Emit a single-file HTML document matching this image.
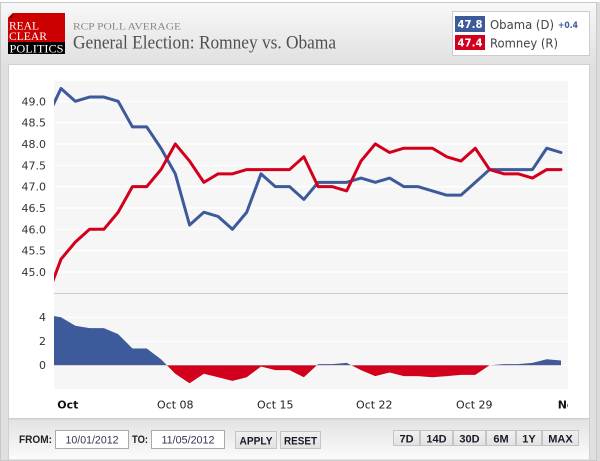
<!DOCTYPE html>
<html><head><meta charset="utf-8"><style>
html,body{margin:0;padding:0;background:#fff;width:600px;height:461px;overflow:hidden}
svg{display:block}
</style></head><body>
<svg width="600" height="461" viewBox="0 0 600 461" xmlns="http://www.w3.org/2000/svg" font-family="'DejaVu Sans', sans-serif">
<defs>
 <linearGradient id="hg" x1="0" y1="2" x2="0" y2="66" gradientUnits="userSpaceOnUse"><stop offset="0" stop-color="#f8f8f8"/><stop offset="1" stop-color="#e0e0e0"/></linearGradient>
 <linearGradient id="fg" x1="0" y1="419" x2="0" y2="460" gradientUnits="userSpaceOnUse"><stop offset="0" stop-color="#e2e2e2"/><stop offset="1" stop-color="#fcfcfc"/></linearGradient>
 <linearGradient id="bg" x1="0" y1="0" x2="0" y2="1"><stop offset="0" stop-color="#f0f0f0"/><stop offset="1" stop-color="#e2e2e2"/></linearGradient>
 <clipPath id="pc"><rect x="54" y="81" width="514" height="212"/></clipPath>
 <clipPath id="pos"><rect x="54" y="294" width="514" height="71.3"/></clipPath>
 <clipPath id="neg"><rect x="54" y="365.3" width="514" height="24"/></clipPath>
 <clipPath id="xl"><rect x="0" y="390" width="568" height="28"/></clipPath>
</defs>

<!-- outer frame -->
<rect x="596" y="2" width="4" height="459" fill="#dcdcdc"/>
<rect x="0.5" y="2.5" width="596" height="458" fill="url(#hg)" stroke="#c8c8c8"/>

<!-- logo -->
<rect x="8" y="13" width="57" height="29" fill="#cc0000"/>
<rect x="8" y="42" width="57" height="12" fill="#000"/>
<polygon points="8,13 13,13 8,18" fill="#e8e8e8"/>
<polygon points="13,13 13,18 8,18" fill="#7a0000"/>
<text x="9" y="29.3" font-family="'Liberation Serif', serif" font-size="12" fill="#fff" textLength="30" lengthAdjust="spacingAndGlyphs">REAL</text>
<text x="9" y="40" font-family="'Liberation Serif', serif" font-size="12" fill="#fff" textLength="38" lengthAdjust="spacingAndGlyphs">CLEAR</text>
<text x="9.5" y="52.3" font-family="'Liberation Serif', serif" font-size="12" fill="#fff" textLength="54" lengthAdjust="spacingAndGlyphs">POLITICS</text>

<!-- title -->
<text x="73" y="29.7" font-family="'Liberation Serif', serif" font-size="9" fill="#888" textLength="108" lengthAdjust="spacingAndGlyphs">RCP POLL AVERAGE</text>
<text x="73" y="48.3" font-family="'Liberation Serif', serif" font-size="18.5" fill="#505050" textLength="263" lengthAdjust="spacingAndGlyphs">General Election: Romney vs. Obama</text>

<!-- legend -->
<rect x="452.5" y="11.5" width="137" height="44" fill="#fff" stroke="#cccccc"/>
<rect x="455" y="16" width="30" height="16" fill="#3d5a9b"/>
<rect x="455" y="35" width="30" height="15" fill="#d2001c"/>
<text x="470" y="28" text-anchor="middle" font-size="11" font-weight="bold" fill="#fff" textLength="25" lengthAdjust="spacingAndGlyphs">47.8</text>
<text x="470" y="46.5" text-anchor="middle" font-size="11" font-weight="bold" fill="#fff" textLength="25" lengthAdjust="spacingAndGlyphs">47.4</text>
<text x="490" y="29" font-size="12" fill="#444" textLength="64" lengthAdjust="spacingAndGlyphs">Obama (D)</text>
<text x="558" y="28" font-size="8.5" font-weight="bold" fill="#3d5a9b" textLength="20" lengthAdjust="spacingAndGlyphs">+0.4</text>
<text x="490" y="47.5" font-size="12" fill="#444" textLength="68" lengthAdjust="spacingAndGlyphs">Romney (R)</text>

<!-- panel -->
<rect x="8.5" y="64.5" width="581" height="354" fill="#fff" stroke="#d0d0d0"/>
<!-- footer -->
<rect x="8.5" y="419" width="581" height="41" fill="url(#fg)" stroke="#d0d0d0"/>

<!-- upper plot -->
<rect x="54" y="81" width="514" height="212" fill="#f6f6f6"/>
<g stroke="#ffffff" stroke-width="1.2">
 <line x1="54" x2="568" y1="101.3" y2="101.3"/>
 <line x1="54" x2="568" y1="122.6" y2="122.6"/>
 <line x1="54" x2="568" y1="144" y2="144"/>
 <line x1="54" x2="568" y1="165.3" y2="165.3"/>
 <line x1="54" x2="568" y1="186.6" y2="186.6"/>
 <line x1="54" x2="568" y1="208" y2="208"/>
 <line x1="54" x2="568" y1="229.3" y2="229.3"/>
 <line x1="54" x2="568" y1="250.6" y2="250.6"/>
 <line x1="54" x2="568" y1="272" y2="272"/>
</g>
<g font-size="11" fill="#333" text-anchor="end">
 <text x="46" y="105.3">49.0</text>
 <text x="46" y="126.6">48.5</text>
 <text x="46" y="148">48.0</text>
 <text x="46" y="169.3">47.5</text>
 <text x="46" y="190.6">47.0</text>
 <text x="46" y="212">46.5</text>
 <text x="46" y="233.3">46.0</text>
 <text x="46" y="254.6">45.5</text>
 <text x="46" y="276">45.0</text>
</g>
<g clip-path="url(#pc)" fill="none" stroke-width="3" stroke-linejoin="round" stroke-linecap="round">
 <polyline stroke="#3d5a9b" points="46.71,118.37 61,88.5 75.29,101.3 89.57,97.03 103.86,97.03 118.14,101.3 132.43,126.9 146.71,126.9 161,148.23 175.29,173.83 189.57,225.03 203.86,212.23 218.14,216.5 232.43,229.3 246.71,212.23 261,173.83 275.29,186.63 289.57,186.63 303.86,199.43 318.14,182.37 332.43,182.37 346.71,182.37 361,178.1 375.29,182.37 389.57,178.1 403.86,186.63 418.14,186.63 432.43,190.9 446.71,195.17 461,195.17 475.29,182.37 489.57,169.57 503.86,169.57 518.14,169.57 532.43,169.57 546.71,148.23 561,152.5"/>
 <polyline stroke="#d2001c" points="46.71,297.57 61,259.17 75.29,242.1 89.57,229.3 103.86,229.3 118.14,212.23 132.43,186.63 146.71,186.63 161,169.57 175.29,143.97 189.57,161.03 203.86,182.37 218.14,173.83 232.43,173.83 246.71,169.57 261,169.57 275.29,169.57 289.57,169.57 303.86,156.77 318.14,186.63 332.43,186.63 346.71,190.9 361,161.03 375.29,143.97 389.57,152.5 403.86,148.23 418.14,148.23 432.43,148.23 446.71,156.77 461,161.03 475.29,148.23 489.57,169.57 503.86,173.83 518.14,173.83 532.43,178.1 546.71,169.57 561,169.57"/>
</g>
<line x1="54" x2="568" y1="293.5" y2="293.5" stroke="#cccccc"/>

<!-- lower plot -->
<rect x="54" y="294" width="514" height="95" fill="#f6f6f6"/>
<g stroke="#ffffff" stroke-width="1.2">
 <line x1="54" x2="568" y1="317.3" y2="317.3"/>
 <line x1="54" x2="568" y1="341.3" y2="341.3"/>
 <line x1="54" x2="568" y1="365.3" y2="365.3"/>
</g>
<g font-size="11" fill="#333" text-anchor="end">
 <text x="46" y="321">4</text>
 <text x="46" y="345">2</text>
 <text x="46" y="369">0</text>
</g>
<g>
 <polygon clip-path="url(#pos)" fill="#3d5a9b" points="46.71,365.3 46.71,314.9 61,317.3 75.29,325.7 89.57,328.1 103.86,328.1 118.14,334.1 132.43,348.5 146.71,348.5 161,359.3 175.29,373.7 189.57,383.3 203.86,373.7 218.14,377.3 232.43,380.9 246.71,377.3 261,366.5 275.29,370.1 289.57,370.1 303.86,377.3 318.14,364.1 332.43,364.1 346.71,362.9 361,370.1 375.29,376.1 389.57,372.5 403.86,376.1 418.14,376.1 432.43,377.3 446.71,376.1 461,374.9 475.29,374.9 489.57,365.3 503.86,364.1 518.14,364.1 532.43,362.9 546.71,359.3 561,360.5 561,365.3"/>
 <polygon clip-path="url(#neg)" fill="#d2001c" points="46.71,365.3 46.71,314.9 61,317.3 75.29,325.7 89.57,328.1 103.86,328.1 118.14,334.1 132.43,348.5 146.71,348.5 161,359.3 175.29,373.7 189.57,383.3 203.86,373.7 218.14,377.3 232.43,380.9 246.71,377.3 261,366.5 275.29,370.1 289.57,370.1 303.86,377.3 318.14,364.1 332.43,364.1 346.71,362.9 361,370.1 375.29,376.1 389.57,372.5 403.86,376.1 418.14,376.1 432.43,377.3 446.71,376.1 461,374.9 475.29,374.9 489.57,365.3 503.86,364.1 518.14,364.1 532.43,362.9 546.71,359.3 561,360.5 561,365.3"/>
</g>

<!-- x axis labels -->
<g font-size="11" fill="#222" clip-path="url(#xl)">
 <text x="57.3" y="408.5" font-weight="bold" fill="#111">Oct</text>
 <text x="175.3" y="408.5" text-anchor="middle">Oct 08</text>
 <text x="275.3" y="408.5" text-anchor="middle">Oct 15</text>
 <text x="374.3" y="408.5" text-anchor="middle">Oct 22</text>
 <text x="474.3" y="408.5" text-anchor="middle">Oct 29</text>
 <text x="557.7" y="408.5" font-weight="bold" fill="#111">Nov</text>
</g>

<!-- footer controls -->
<g font-family="'Liberation Sans', sans-serif" font-size="11" font-weight="bold" fill="#222">
 <text x="19" y="443" textLength="33" lengthAdjust="spacingAndGlyphs">FROM:</text>
 <text x="132" y="443" textLength="16" lengthAdjust="spacingAndGlyphs">TO:</text>
</g>
<rect x="55.5" y="430.5" width="73" height="18" fill="#fff" stroke="#a8a8b0"/>
<rect x="151.5" y="430.5" width="73" height="18" fill="#fff" stroke="#a8a8b0"/>
<g font-family="'Liberation Sans', sans-serif" font-size="11" fill="#3a3050" text-anchor="middle">
 <text x="92" y="443.3" textLength="53" lengthAdjust="spacingAndGlyphs">10/01/2012</text>
 <text x="188" y="443.3" textLength="53" lengthAdjust="spacingAndGlyphs">11/05/2012</text>
</g>
<g fill="url(#bg)" stroke="#c4c4c4">
 <rect x="235.5" y="431.5" width="41" height="17"/>
 <rect x="280.5" y="431.5" width="40" height="17"/>
 <rect x="393.5" y="430.5" width="26" height="15"/>
 <rect x="420.5" y="430.5" width="32" height="15"/>
 <rect x="453.5" y="430.5" width="32" height="15"/>
 <rect x="486.5" y="430.5" width="29" height="15"/>
 <rect x="516.5" y="430.5" width="25" height="15"/>
 <rect x="542.5" y="430.5" width="36" height="15"/>
</g>
<g font-family="'Liberation Sans', sans-serif" font-size="11" font-weight="bold" fill="#1a1a2a" text-anchor="middle">
 <text x="256" y="444.3" textLength="33" lengthAdjust="spacingAndGlyphs">APPLY</text>
 <text x="300.5" y="444.3" textLength="33" lengthAdjust="spacingAndGlyphs">RESET</text>
 <text x="406.5" y="442.3">7D</text>
 <text x="436.5" y="442.3">14D</text>
 <text x="469.5" y="442.3">30D</text>
 <text x="501" y="442.3">6M</text>
 <text x="529" y="442.3">1Y</text>
 <text x="560.5" y="442.3">MAX</text>
</g>
</svg>
</body></html>
